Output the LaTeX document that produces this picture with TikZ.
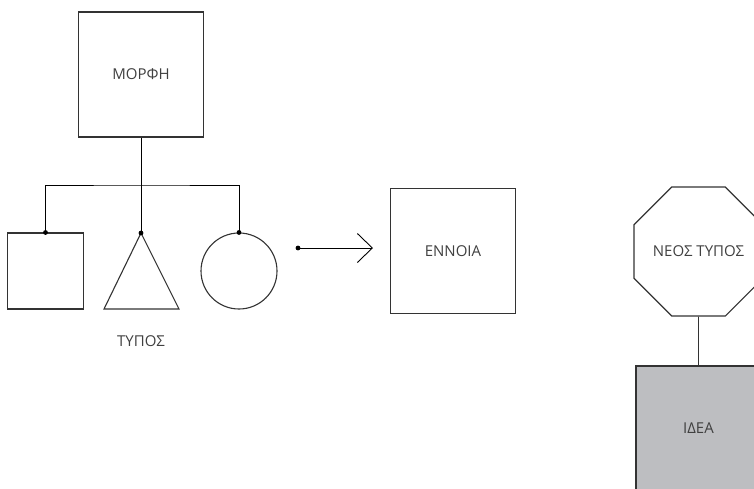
\documentclass[tikz,border=0pt]{standalone}
\usepackage{fontspec}
\setmainfont{Open Sans}
\usetikzlibrary{shapes.geometric,arrows.meta}
\definecolor{ink}{HTML}{333333}
\definecolor{txt}{HTML}{404040}
\definecolor{ideafill}{HTML}{BDBEC1}

\begin{document}
\begin{tikzpicture}[x=1pt,y=-1pt,
  label font/.style={text=txt, font=\fontsize{15}{17}\selectfont},
  bigbox/.style={draw=ink, line width=1.1pt, minimum width=125pt, minimum height=125pt,
    inner sep=0pt, label font},
  outline/.style={draw=ink, line width=1.1pt},
  link/.style={draw=black, line width=0.9pt},
  dot/.style={circle, fill=black, inner sep=0pt, minimum size=4.8pt},
  octagon/.style={regular polygon, regular polygon sides=8, draw=ink, line width=1.1pt,
    minimum size=135.3pt, inner sep=0pt, label font}]

  \clip (0,0) rectangle (754,488);
  \useasboundingbox (0,0) rectangle (754,488);

  % form at the top
  \node[bigbox] (morph) at (141,74.5) {ΜΟΡΦΗ};

  % three types below
  \node[outline, minimum width=76pt, minimum height=76pt, inner sep=0pt] (sq) at (45.5,271) {};
  \coordinate (tritop) at (141,233);
  \coordinate (trileft) at (104,309);
  \coordinate (triright) at (179,309);
  \draw[outline] (tritop) -- (triright) -- (trileft) -- cycle;
  \node[outline, circle, minimum size=76pt, inner sep=0pt] (circ) at (239,271) {};
  \node[label font] (typos) at (141,341) {ΤΥΠΟΣ};

  % branching connector
  \coordinate (split) at (141,185);
  \draw[link] (morph.south) -- (tritop);
  \draw[link] (sq.north) |- (split) -| (circ.north);
  \node[dot] at (sq.north) {};
  \node[dot] at (tritop) {};
  \node[dot] at (circ.north) {};

  % arrow to the concept
  \coordinate (from) at (298,248);
  \coordinate (to) at (373,248);
  \draw[link, -{Straight Barb[length=15pt, width=29pt, line width=0.9pt]}] (from) -- (to);
  \node[dot] at (from) {};
  \node[bigbox] (ennoia) at (453,251) {ΕΝΝΟΙΑ};

  % new type and idea
  \node[octagon] (neos) at (698.5,251.5) {ΝΕΟΣ ΤΥΠΟΣ};
  \node[bigbox, fill=ideafill] (idea) at (698.5,428.5) {ΙΔΕΑ};
  \draw[link, draw=ink] (neos.south) -- (idea.north);
\end{tikzpicture}
\end{document}
